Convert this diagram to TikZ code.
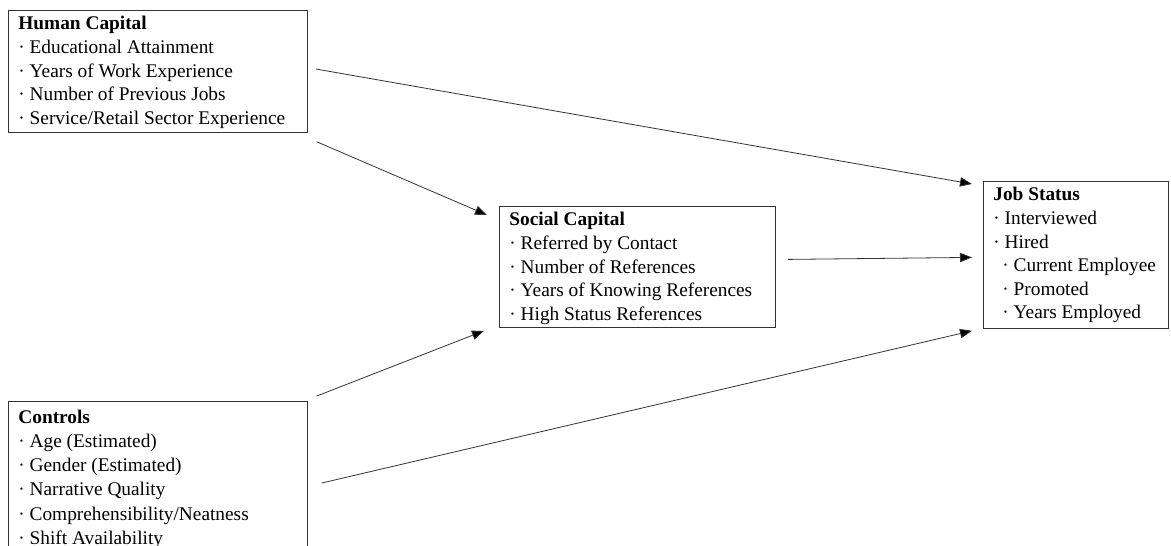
\documentclass[tikz,border=0pt]{standalone}
\usepackage{fontspec}
\setmainfont{Liberation Serif}
\usetikzlibrary{arrows.meta,calc}
\newcommand\mybx[4][17.7pt]{\begin{minipage}[t][#3][t]{#2}\fontsize{14.5pt}{#1}\selectfont\raggedright #4\end{minipage}}
\newcommand\itm{·\ }
\begin{document}
\begin{tikzpicture}[x=0.75pt,y=-0.75pt,
  box/.style={draw=black!80,line width=0.6pt,inner xsep=7.5pt,inner ysep=4.5pt,anchor=north west},
  conn/.style={draw=black!80,line width=0.6pt,-{Triangle[length=9pt,width=7pt,fill=black]}}]
\useasboundingbox (0,0) rectangle (1171,546);
\node[box] (hc) at (8,10) {\mybx{209.25pt}{82.5pt}{\textbf{Human Capital}\\
\itm Educational Attainment\\
\itm Years of Work Experience\\
\itm Number of Previous Jobs\\
\itm Service/Retail Sector Experience}};
\node[box,inner ysep=6.5pt] (ct) at (8,401) {\mybx[18.1pt]{209.25pt}{110pt}{\textbf{Controls}\\
\itm Age (Estimated)\\
\itm Gender (Estimated)\\
\itm Narrative Quality\\
\itm Comprehensibility/Neatness\\
\itm Shift Availability}};
\node[box] (sc) at (499,206) {\mybx{192pt}{81.75pt}{\textbf{Social Capital}\\
\itm Referred by Contact\\
\itm Number of References\\
\itm Years of Knowing References\\
\itm High Status References}};
\node[box] (js) at (983,181) {\mybx{123.75pt}{101.25pt}{\textbf{Job Status}\\
\itm Interviewed\\
\itm Hired\\
\hspace*{6.75pt}\itm Current Employee\\
\hspace*{6.75pt}\itm Promoted\\
\hspace*{6.75pt}\itm Years Employed}};
\coordinate (a1s) at ($(hc.north east)+(8,59)$);
\coordinate (a1e) at ($(js.north west)+(-11,3)$);
\coordinate (a2s) at ($(hc.south east)+(9,9)$);
\coordinate (a2e) at ($(sc.north west)+(-12,9)$);
\coordinate (a3s) at ($(ct.north east)+(9,-5)$);
\coordinate (a3e) at ($(sc.south west)+(-15,3)$);
\coordinate (a4s) at ($(ct.north east)+(14,82)$);
\coordinate (a4e) at ($(js.south west)+(-11,2)$);
\coordinate (a5s) at ($(sc.east)+(12,-7.5)$);
\coordinate (a5e) at ($(js.west)+(-11,2.5)$);
\draw[conn] (a1s) -- (a1e);
\draw[conn] (a2s) -- (a2e);
\draw[conn] (a3s) -- (a3e);
\draw[conn] (a4s) -- (a4e);
\draw[conn] (a5s) -- (a5e);
\end{tikzpicture}
\end{document}
